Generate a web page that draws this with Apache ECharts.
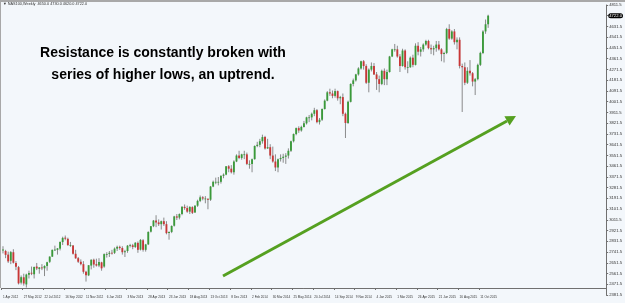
<!DOCTYPE html>
<html><head><meta charset="utf-8">
<script src="https://cdn.jsdelivr.net/npm/echarts@6/dist/echarts.min.js"></script>
<style>html,body{margin:0;padding:0;background:#f3f7fb}#c{width:625px;height:303px}</style>
</head><body><div id="c"></div>
<script>
// Weekly candles, NAS100, from week of 1 Apr 2012. Row = [open, close, low, high]
var ohlc = [
[2755,2762,2730,2790],[2750,2718,2690,2760],[2720,2663,2650,2745],[2668,2741,2640,2750],[2740,2652,2645,2765],
[2650,2618,2590,2665],[2615,2479,2470,2625],[2485,2531,2470,2545],[2530,2478,2460,2560],[2470,2553,2444,2560],
[2552,2566,2520,2585],[2568,2560,2548,2620],[2555,2616,2520,2620],[2620,2604,2590,2650],[2600,2613,2560,2615],
[2612,2611,2590,2640],[2605,2625,2540,2630],[2625,2656,2585,2660],[2660,2703,2650,2706],[2703,2760,2700,2762],
[2760,2762,2750,2795],[2760,2772,2720,2775],[2770,2826,2755,2830],[2825,2860,2800,2870],[2862,2853,2840,2880],
[2852,2799,2795,2862],[2799,2800,2785,2826],[2797,2727,2720,2800],[2727,2689,2685,2760],[2690,2660,2650,2700],
[2660,2640,2630,2680],[2640,2576,2560,2665],[2577,2546,2494,2584],[2546,2631,2540,2632],[2628,2677,2596,2680],
[2677,2637,2610,2686],[2640,2628,2620,2686],[2628,2658,2615,2690],[2655,2605,2585,2660],[2620,2724,2610,2730],
[2722,2724,2695,2740],[2726,2735,2700,2750],[2735,2733,2720,2760],[2735,2770,2725,2780],[2770,2785,2750,2795],
[2785,2775,2760,2795],[2775,2740,2720,2790],[2740,2748,2700,2760],[2750,2795,2735,2800],[2795,2799,2780,2810],
[2798,2784,2765,2810],[2784,2819,2775,2825],[2818,2760,2735,2830],[2762,2843,2755,2850],[2840,2760,2745,2850],
[2760,2805,2745,2810],[2806,2910,2800,2915],[2912,2958,2905,2960],[2958,3005,2950,3010],[3005,2990,2950,3050],
[2990,2975,2960,3015],[2975,3000,2930,3005],[3000,2975,2960,3030],[2975,2900,2890,3000],[2900,2910,2845,2915],
[2910,2960,2900,2965],[2962,3040,2955,3045],[3040,3030,3010,3060],[3030,3060,3015,3065],[3060,3120,3050,3125],
[3120,3110,3095,3140],[3110,3080,3070,3130],[3080,3120,3060,3125],[3118,3070,3060,3125],[3072,3130,3070,3135],
[3130,3170,3120,3180],[3170,3200,3160,3215],[3200,3190,3175,3210],[3190,3190,3150,3210],[3188,3180,3100,3190],
[3180,3290,3170,3295],[3290,3330,3285,3340],[3330,3330,3310,3365],[3330,3330,3300,3370],[3330,3380,3315,3385],
[3380,3390,3360,3400],[3390,3460,3385,3462],[3460,3440,3410,3470],[3440,3410,3400,3470],[3410,3500,3390,3510],
[3500,3550,3495,3560],[3550,3530,3520,3590],
[3530,3560,3515,3565],[3560,3560,3520,3590],[3560,3480,3470,3575],[3480,3480,3440,3510],[3480,3520,3410,3525],
[3520,3630,3515,3635],[3630,3640,3620,3665],[3640,3670,3620,3690],[3670,3705,3650,3725],[3705,3610,3600,3715],
[3610,3620,3605,3690],[3620,3550,3520,3645],[3550,3500,3490,3625],[3500,3450,3420,3560],[3450,3520,3410,3525],
[3520,3530,3500,3560],[3530,3540,3490,3565],[3540,3550,3480,3570],[3550,3590,3525,3610],[3590,3670,3580,3675],
[3670,3730,3660,3735],[3730,3780,3720,3785],[3780,3760,3740,3795],[3760,3790,3750,3800],[3790,3820,3785,3840],
[3820,3870,3810,3875],[3870,3870,3830,3890],[3870,3900,3845,3910],[3900,3930,3880,3950],[3930,3830,3820,3940],
[3830,3850,3810,3865],[3850,3940,3840,3945],[3940,4010,3935,4020],[4010,4080,4005,4090],[4080,4070,4050,4110],
[4070,4050,4030,4095],[4050,4090,4035,4110],[4090,4030,4010,4095],[4030,4040,3980,4050],[4040,3900,3880,4070],
[3900,3823,3697,3910],[3823,4000,3815,4010],[4000,4150,3995,4155],[4150,4180,4130,4195],[4180,4230,4170,4235],
[4230,4280,4220,4290],[4280,4340,4270,4345],[4340,4300,4270,4350],[4300,4160,4150,4315],[4160,4270,4080,4280],
[4270,4300,4255,4330],[4300,4230,4225,4325],
[4230,4190,4100,4250],[4190,4150,4080,4220],[4150,4260,4140,4270],[4260,4190,4140,4280],[4190,4250,4140,4270],
[4250,4380,4245,4385],[4380,4440,4375,4445],[4440,4440,4420,4485],[4440,4380,4370,4470],[4380,4300,4250,4400],
[4300,4430,4295,4445],[4430,4290,4270,4440],[4290,4290,4240,4340],[4290,4370,4285,4380],[4370,4310,4290,4395],
[4310,4470,4305,4490],[4470,4420,4390,4500],[4420,4440,4380,4460],[4440,4480,4420,4490],[4480,4510,4470,4520],
[4510,4450,4440,4520],[4450,4440,4400,4480],[4440,4450,4390,4470],[4450,4480,4420,4510],[4480,4440,4430,4510],
[4440,4400,4340,4450],[4400,4410,4330,4420],[4410,4610,4400,4620],[4610,4530,4520,4650],[4530,4590,4520,4600],
[4590,4500,4480,4610],[4500,4520,4440,4540],[4520,4300,4280,4540],[4300,4290,3915,4320],[4290,4160,4140,4330],
[4160,4260,4150,4290],[4260,4240,4220,4350],[4240,4170,4130,4250],[4170,4190,4057,4200],[4190,4310,4180,4320],
[4310,4410,4300,4420],[4410,4590,4400,4600],[4590,4650,4570,4690],[4650,4722,4620,4730]
];
var firstWeek = Date.UTC(2012, 3, 1);
var emptySlots = 45;           // chart shift space on the right
var labelEvery = 8;            // time-scale label every 8 weeks
var priceMin = 2381.5, priceMax = 4811.5, priceStep = 90;
var lastBar = ohlc[ohlc.length - 1];
var lastPrice = lastBar[1];
var headerText = 'NAS100,Weekly  ' + [lastBar[0], lastBar[3], lastBar[2], lastBar[1]].map(function (v) { return v.toFixed(1); }).join(' ');
var noteLines = ['Resistance is constantly broken with', 'series of higher lows, an uptrend.'];

var months = ['Jan','Feb','Mar','Apr','May','Jun','Jul','Aug','Sep','Oct','Nov','Dec'];
var categories = [];
for (var k = 0; k < ohlc.length + emptySlots; k++) {
  if (k < ohlc.length) {
    var d = new Date(firstWeek + k * 7 * 86400000);
    categories.push(d.getUTCDate() + ' ' + months[d.getUTCMonth()] + ' ' + d.getUTCFullYear());
  } else categories.push('');
}
var seriesData = ohlc.map(function (r, i) { return [i, r[0], r[1], r[2], r[3]]; });

var chart = echarts.init(document.getElementById('c'), null, {renderer: 'canvas'});
var showIdx = function (i) { return i % labelEvery === 0 && i < ohlc.length; };
chart.setOption({
  backgroundColor: '#f3f7fb',
  animation: false,
  grid: {left: 1, right: 17, top: 5, bottom: 8, show: false},
  xAxis: {
    type: 'category', data: categories, boundaryGap: true, offset: -7,
    axisLine: {show: true, lineStyle: {color: '#707070', width: 1}},
    axisTick: {show: true, interval: showIdx, length: 2, inside: false, lineStyle: {color: '#707070'}},
    axisLabel: {show: true, interval: showIdx, align: 'left', fontSize: 3.1, color: '#333', margin: 8,
      fontFamily: 'Liberation Sans'},
    splitLine: {show: false}
  },
  yAxis: {
    type: 'value', position: 'right', min: priceMin, max: priceMax, interval: priceStep, scale: true,
    axisLine: {show: true, lineStyle: {color: '#707070', width: 1}},
    axisTick: {show: true, length: 2, lineStyle: {color: '#707070'}},
    axisLabel: {fontSize: 4.2, color: '#333', margin: 3, fontFamily: 'Liberation Sans',
      formatter: function (v) { return v.toFixed(1); }},
    splitLine: {show: false},
    axisPointer: {
      show: true, status: 'show', value: lastPrice, type: 'line', triggerTooltip: false,
      lineStyle: {opacity: 0},
      label: {show: true, backgroundColor: '#000', color: '#fff', fontSize: 4.2, padding: [1, 1, 0, 1],
        margin: 2, fontFamily: 'Liberation Sans', formatter: function (p) { return p.value.toFixed(1); }}
    }
  },
  series: [{
    type: 'custom',
    data: seriesData,
    encode: {x: 0, y: [1, 2, 3, 4]},
    clip: true,
    z: 2,
    renderItem: function (params, api) {
      var x = api.value(0), o = api.value(1), c = api.value(2), l = api.value(3), h = api.value(4);
      var pO = api.coord([x, o]), pC = api.coord([x, c]), pL = api.coord([x, l]), pH = api.coord([x, h]);
      var w = api.size([1, 0])[0] * 0.72;
      var top = Math.min(pO[1], pC[1]), bot = Math.max(pO[1], pC[1]);
      var up = c >= o;
      return {type: 'group', children: [
        {type: 'line', shape: {x1: pH[0], y1: pH[1], x2: pL[0], y2: pL[1]}, style: {stroke: '#6e6e6e', lineWidth: 0.8}},
        {type: 'rect', shape: {x: pO[0] - w / 2, y: top, width: w, height: Math.max(bot - top, 0.8)},
          style: {fill: up ? '#3a9a3a' : '#c83636'}}
      ]};
    }
  }],
  graphic: [
    {type: 'rect', shape: {x: 0, y: 0, width: 625, height: 2}, style: {fill: '#a8a8a8'}, silent: true},
    {type: 'rect', shape: {x: 0, y: 0, width: 1, height: 288}, style: {fill: '#a8a8a8'}, silent: true},
    {type: 'text', x: 3, y: 4, style: {text: '\u25BC ' + headerText, font: '3.8px "Liberation Sans"', fill: '#333',
      textVerticalAlign: 'middle'}},
    {type: 'text', x: 163, y: 53, style: {text: noteLines[0], font: 'bold 14px "Liberation Sans"', fill: '#000',
      textAlign: 'center', textVerticalAlign: 'middle'}},
    {type: 'text', x: 163, y: 75, style: {text: noteLines[1], font: 'bold 14px "Liberation Sans"', fill: '#000',
      textAlign: 'center', textVerticalAlign: 'middle'}},
    {type: 'line', shape: {x1: 223, y1: 276, x2: 507, y2: 121}, style: {stroke: '#55a020', lineWidth: 3}},
    {type: 'polygon', shape: {points: [[516, 116], [509.6, 125.6], [504.4, 116.2]]}, style: {fill: '#55a020'}}
  ]
});
</script></body></html>
